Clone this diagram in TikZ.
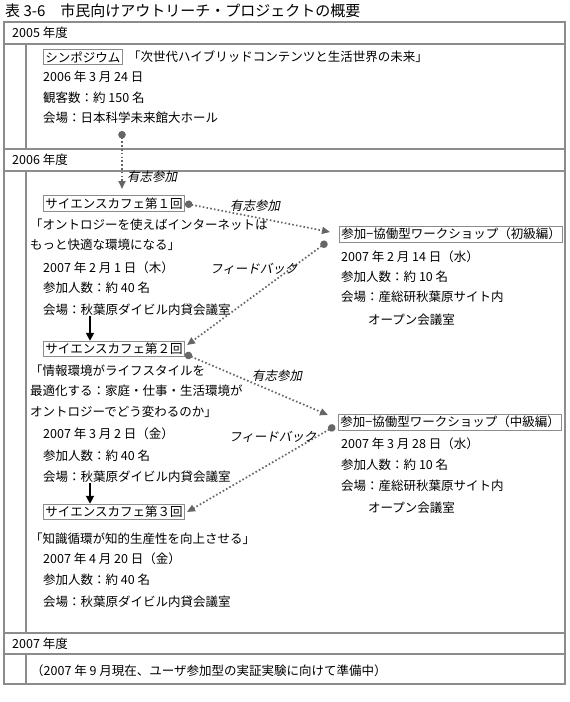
\documentclass[tikz,border=0pt]{standalone}
\usepackage{fontspec}
\setmainfont{Noto Sans CJK JP}
\newfontfamily\slantjp[FakeSlant=0.2]{Noto Sans CJK JP}
\usetikzlibrary{arrows.meta}
\definecolor{rulegray}{HTML}{8C8C8C}
\definecolor{linkgray}{HTML}{666666}

\begin{document}
\begin{tikzpicture}[x=1pt,y=-1pt,
    every node/.style={font=\fontsize{12.5}{14}\selectfont},
    txt/.style={anchor=west,inner sep=0pt},
    tag/.style={anchor=west,draw=rulegray,line width=0.9pt,inner sep=2pt},
    note/.style={anchor=west,inner sep=0pt,font=\fontsize{12.5}{14}\slantjp},
    rule/.style={rulegray,line width=1.1pt},
    link/.style={linkgray,line width=1.7pt,dash pattern=on 1.6pt off 2.2pt,
        {Circle[length=7.5pt]}-{Triangle[length=8pt,width=7pt]}},
    flow/.style={black,line width=1.8pt,-{Triangle[length=8pt,width=8pt]}}]
    \useasboundingbox (0,0) rectangle (570,702);

    % === 表题 ===
    \node[txt,font=\fontsize{15}{17}\selectfont] (title) at (5,11)
        {表 3-6\quad 市民向けアウトリーチ・プロジェクトの概要};

    % === 表格框线 ===
    \draw[rule] (4,22) rectangle (565,684);
    \draw[rule] (4,44) -- (565,44);
    \draw[rule] (4,149) -- (565,149);
    \draw[rule] (4,171) -- (565,171);
    \draw[rule] (4,633) -- (565,633);
    \draw[rule] (4,654) -- (565,654);
    \draw[rule] (26,44) -- (26,149);
    \draw[rule] (26,171) -- (26,633);
    \draw[rule] (26,654) -- (26,684);

    % 年度标题
    \node[txt] (y2005) at (12,33) {2005 年度};
    \node[txt] (y2006) at (12,160) {2006 年度};
    \node[txt] (y2007) at (12,644) {2007 年度};

    % === 2005 年度：シンポジウム ===
    \node[tag] (symp) at (43,57) {シンポジウム};
    \node[txt] (sympt) at (128,57) {「次世代ハイブリッドコンテンツと生活世界の未来」};
    \node[txt] (sympd) at (43,77) {2006 年 3 月 24 日};
    \node[txt] (sympn) at (43,98) {観客数：約 150 名};
    \node[txt] (sympv) at (43,118) {会場：日本科学未来館大ホール};
    \coordinate (s0) at (122,131);
    \coordinate (s1) at (122,189);

    % === 2006 年度：サイエンスカフェ ===
    \node[tag] (cafe1) at (43,203.5) {サイエンスカフェ第１回};
    \node[txt] (c1qa) at (30,225) {「オントロジーを使えばインターネットは};
    \node[txt] (c1qb) at (30,245) {もっと快適な環境になる」};
    \node[txt] (c1d) at (43,267.5) {2007 年 2 月 1 日（木）};
    \node[txt] (c1n) at (43,288) {参加人数：約 40 名};
    \node[txt] (c1v) at (43,310) {会場：秋葉原ダイビル内貸会議室};

    \node[tag] (cafe2) at (43,349) {サイエンスカフェ第２回};
    \node[txt] (c2qa) at (30,371) {「情報環境がライフスタイルを};
    \node[txt] (c2qb) at (30,391) {最適化する：家庭・仕事・生活環境が};
    \node[txt] (c2qc) at (30,412) {オントロジーでどう変わるのか」};
    \node[txt] (c2d) at (43,434) {2007 年 3 月 2 日（金）};
    \node[txt] (c2n) at (43,456) {参加人数：約 40 名};
    \node[txt] (c2v) at (43,477) {会場：秋葉原ダイビル内貸会議室};

    \node[tag] (cafe3) at (43,512) {サイエンスカフェ第３回};
    \node[txt] (c3q) at (30,539) {「知識循環が知的生産性を向上させる」};
    \node[txt] (c3d) at (43,559) {2007 年 4 月 20 日（金）};
    \node[txt] (c3n) at (43,580) {参加人数：約 40 名};
    \node[txt] (c3v) at (43,602) {会場：秋葉原ダイビル内貸会議室};

    % === 2006 年度：ワークショップ ===
    \node[tag] (ws1) at (339,234) {参加−協働型ワークショップ（初級編）};
    \node[txt] (w1d) at (341,257) {2007 年 2 月 14 日（水）};
    \node[txt] (w1n) at (341,277) {参加人数：約 10 名};
    \node[txt] (w1v) at (341,297) {会場：産総研秋葉原サイト内};
    \node[txt] (w1r) at (368,320) {オープン会議室};

    \node[tag] (ws2) at (338,422) {参加−協働型ワークショップ（中級編）};
    \node[txt] (w2d) at (341,444) {2007 年 3 月 28 日（水）};
    \node[txt] (w2n) at (341,465) {参加人数：約 10 名};
    \node[txt] (w2v) at (341,486) {会場：産総研秋葉原サイト内};
    \node[txt] (w2r) at (368,508) {オープン会議室};

    % === 2007 年度 ===
    \node[txt] (plan) at (31,671) {（2007 年 9 月現在、ユーザ参加型の実証実験に向けて準備中）};

    % === 连线（有志参加 / フィードバック） ===
    \coordinate (ax) at (90,0);
    \draw[link] (s0) -- (s1);
    \draw[link] (cafe1.east) -- ([xshift=-9pt,yshift=2pt]ws1.west);
    \draw[link] ([xshift=-12pt,yshift=-8pt]ws1.west) -- ([xshift=2pt,yshift=4pt]cafe2.east);
    \draw[link] ([yshift=-5pt]cafe2.east) -- ([xshift=-10pt,yshift=7pt]ws2.west);
    \draw[link] ([xshift=-3pt,yshift=-4pt]ws2.west) -- ([xshift=2pt]cafe3.east);
    \draw[flow] (c1v.south -| ax) -- (cafe2.north -| ax);
    \draw[flow] (c2v.south -| ax) -- (cafe3.north -| ax);

    % 连线标注
    \node[note] (vol0) at (127,177) {有志参加};
    \node[note] (vol1) at (230,206) {有志参加};
    \node[note] (fb1) at (210,269) {フィードバック};
    \node[note] (vol2) at (252,376) {有志参加};
    \node[note] (fb2) at (229,437) {フィードバック};
\end{tikzpicture}
\end{document}
